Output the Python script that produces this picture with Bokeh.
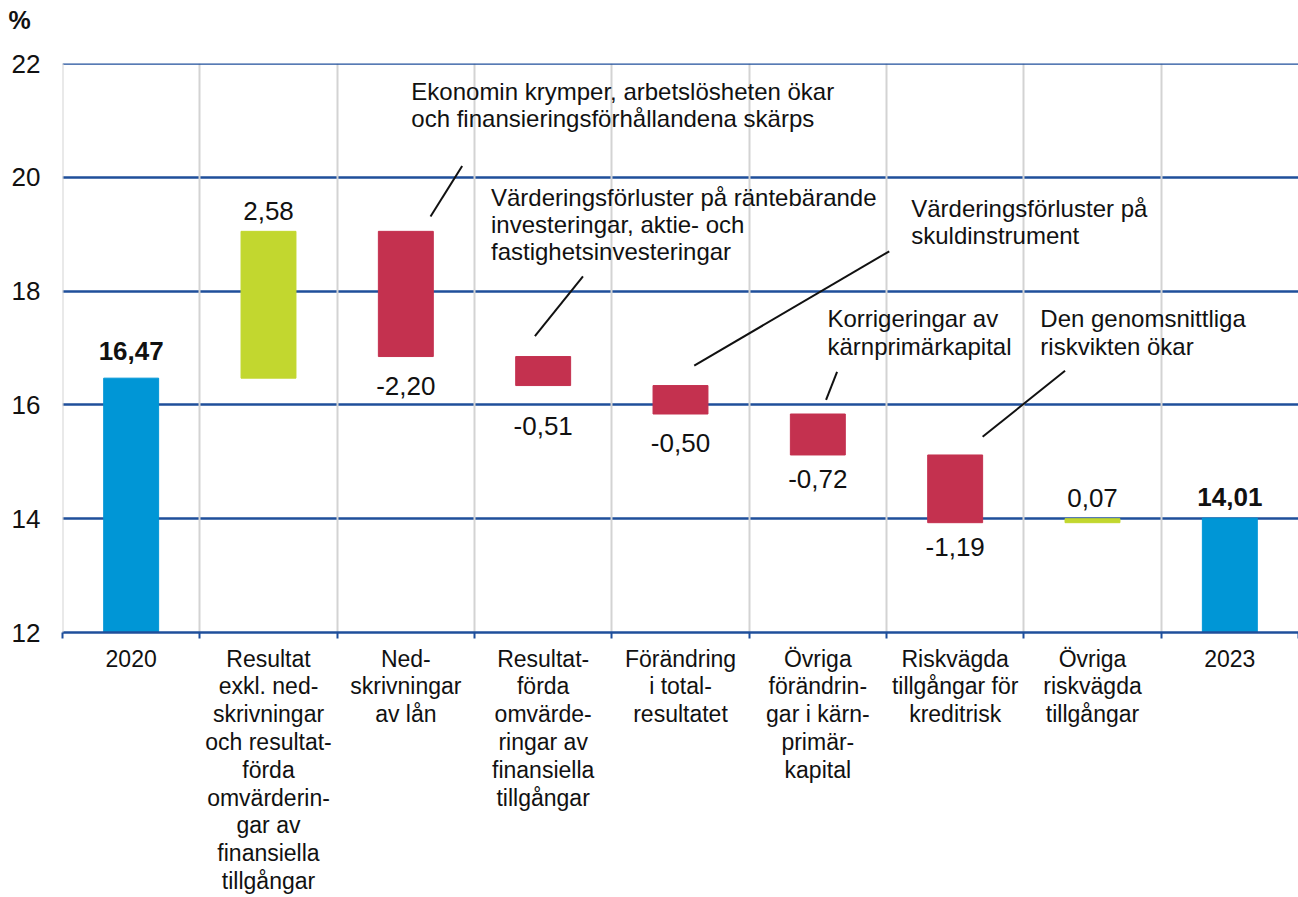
from bokeh.plotting import figure
from bokeh.models import Range1d, FixedTicker, ColumnDataSource, Span
from bokeh.core.properties import value
from bokeh.embed import file_html
from bokeh.resources import INLINE

# ---------------- data ----------------
categories = [
    "2020",
    "Resultat\nexkl. ned-\nskrivningar\noch resultat-\nförda\nomvärderin-\ngar av\nfinansiella\ntillgångar",
    "Ned-\nskrivningar\nav lån",
    "Resultat-\nförda\nomvärde-\nringar av\nfinansiella\ntillgångar",
    "Förändring\ni total-\nresultatet",
    "Övriga\nförändrin-\ngar i kärn-\nprimär-\nkapital",
    "Riskvägda\ntillgångar för\nkreditrisk",
    "Övriga\nriskvägda\ntillgångar",
    "2023",
]
changes = [16.47, 2.58, -2.20, -0.51, -0.50, -0.72, -1.19, 0.07, 14.01]
kinds = ["total", "delta", "delta", "delta", "delta", "delta", "delta", "delta", "total"]
value_texts = ["16,47", "2,58", "-2,20", "-0,51", "-0,50", "-0,72", "-1,19", "0,07", "14,01"]
label_offsets = [-27, -20, 29, 40, 29, 24, 24, -21, -21]   # px from bar end
y_ticks = [12, 14, 16, 18, 20, 22]
unit_label = "%"

annotations = [
    ["Ekonomin krymper, arbetslösheten ökar", "och finansieringsförhållandena skärps"],
    ["Värderingsförluster på räntebärande", "investeringar, aktie- och", "fastighetsinvesteringar"],
    ["Värderingsförluster på", "skuldinstrument"],
    ["Korrigeringar av", "kärnprimärkapital"],
    ["Den genomsnittliga", "riskvikten ökar"],
]
# text anchor (left x, first-line y) in data units
ann_x = [2.54, 3.12, 6.18, 5.57, 7.12]
ann_y = [21.50, 19.64, 19.45, 17.51, 17.51]
ann_dy = 0.475
# leader lines (x0, y0, x1, y1) in data units
lead_x0 = [2.91, 3.79, 6.02, 5.64, 7.30]
lead_y0 = [20.20, 18.26, 18.70, 16.58, 16.60]
lead_x1 = [2.68, 3.44, 4.60, 5.56, 6.70]
lead_y1 = [19.31, 17.21, 16.69, 16.09, 15.44]

BLUE = "#0096d6"
GREEN = "#c2d72f"
RED = "#c4314f"
GRID_BLUE = "#1f4f9b"
FONT = "Liberation Sans"

# ---------------- derived bar geometry ----------------
xs, bottoms, tops, colors, ly = [], [], [], [], []
running = 0.0
for i, (c, k) in enumerate(zip(changes, kinds)):
    xs.append(i + 0.5)
    if k == "total":
        bottoms.append(0.0)
        tops.append(c)
        colors.append(BLUE)
        running = c
        ly.append(c)
    else:
        start = running
        end = running + c
        bottoms.append(min(start, end))
        tops.append(max(start, end))
        colors.append(GREEN if c > 0 else RED)
        ly.append(end)
        running = end

src = ColumnDataSource(dict(x=xs, bottom=bottoms, top=tops, color=colors,
                            ly=ly, txt=value_texts, off=label_offsets,
                            weight=["bold" if k == "total" else "normal" for k in kinds]))

p = figure(width=1298, height=897, x_range=Range1d(0, 9), y_range=Range1d(12, 22),
           output_backend="svg", toolbar_location=None,
           min_border_left=62, min_border_right=0, min_border_top=63, min_border_bottom=262)
p.outline_line_color = None
p.background_fill_color = "white"

# unit label "%" at top-left, as the title (a blank second line lifts it up)
p.title.text = unit_label + "\n "
p.title.align = "left"
p.title.vertical_align = "bottom"
p.title.offset = -54
p.title.standoff = 4
p.title.text_line_height = 1.0
p.title.text_font = FONT
p.title.text_font_size = "25px"
p.title.text_font_style = "bold"
p.title.text_color = "#111111"

# grids
p.ygrid.ticker = FixedTicker(ticks=y_ticks)
p.ygrid.grid_line_color = GRID_BLUE
p.ygrid.grid_line_width = 2.5
p.xgrid.ticker = FixedTicker(ticks=list(range(0, 9)))
p.xgrid.grid_line_color = "#d3d3d3"
p.xgrid.grid_line_width = 2
p.center = [p.ygrid[0], p.xgrid[0]]
p.add_layout(Span(location=22, dimension="width", line_color=GRID_BLUE, line_width=2.5))
p.add_layout(Span(location=0, dimension="height", line_color="#d3d3d3", line_width=2))

# y axis
p.yaxis.ticker = FixedTicker(ticks=y_ticks)
p.yaxis.axis_line_color = None
p.yaxis.major_tick_line_color = None
p.yaxis.major_tick_out = 0
p.yaxis.major_tick_in = 0
p.yaxis.minor_tick_line_color = None
p.yaxis.major_label_text_font = FONT
p.yaxis.major_label_text_font_size = "26px"
p.yaxis.major_label_text_color = "#111111"
p.yaxis.major_label_standoff = 22

# x axis
p.xaxis.ticker = FixedTicker(ticks=[i + 0.5 for i in range(9)], minor_ticks=list(range(0, 10)))
p.xaxis.major_label_overrides = {i + 0.5: categories[i] for i in range(9)}
p.xaxis.axis_line_color = GRID_BLUE
p.xaxis.axis_line_width = 2.5
p.xaxis.major_tick_line_color = None
p.xaxis.major_tick_out = 0
p.xaxis.major_tick_in = 0
p.xaxis.minor_tick_line_color = GRID_BLUE
p.xaxis.minor_tick_line_width = 2
p.xaxis.minor_tick_out = 6
p.xaxis.minor_tick_in = 0
p.xaxis.major_label_text_font = FONT
p.xaxis.major_label_text_font_size = "23px"
p.xaxis.major_label_text_color = "#111111"
p.xaxis.major_label_text_line_height = 1.07
p.xaxis.major_label_standoff = 7

# bars
p.vbar(x="x", bottom="bottom", top="top", width=0.4, color="color", source=src)

# value labels
p.text(x="x", y="ly", text="txt", y_offset="off", source=src,
       text_align="center", text_baseline="middle",
       text_font=value(FONT), text_font_size="26px", text_font_style="weight",
       text_color="#111111")

# annotation texts
tx, ty, tt = [], [], []
for lines, ax, ay in zip(annotations, ann_x, ann_y):
    for j, line in enumerate(lines):
        tx.append(ax)
        ty.append(ay - j * ann_dy)
        tt.append(line)
p.text(x=tx, y=ty, text=tt, text_align="left", text_baseline="middle",
       text_font=value(FONT), text_font_size="24px", text_color="#111111")

# leader lines
p.segment(x0=lead_x0, y0=lead_y0, x1=lead_x1, y1=lead_y1,
          line_color="#111111", line_width=2)

open("out.html", "w").write(file_html(p, INLINE))
